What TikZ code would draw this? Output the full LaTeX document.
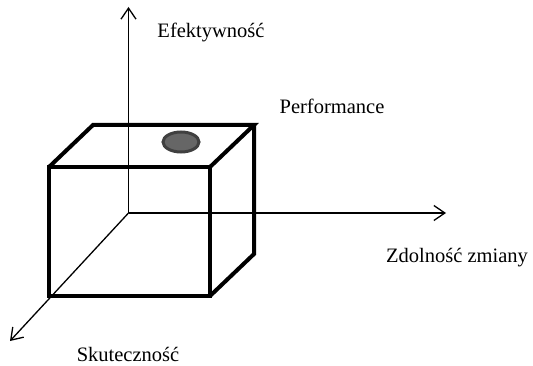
\documentclass[tikz,border=0pt]{standalone}
\usepackage{fontspec}
\setmainfont{Liberation Serif}
\usetikzlibrary{arrows.meta,shapes.geometric}
\begin{document}
\begin{tikzpicture}[x=1pt,y=-1pt,
  axis/.style={line width=1.3pt,-{Straight Barb[length=11pt,width=15pt,line width=1.3pt]}},
  cube/.style={line width=4pt,line join=miter,line cap=butt},
  lbl/.style={font=\fontsize{20.5}{24}\selectfont,inner sep=0pt}]
\useasboundingbox (0,0) rectangle (533,366);
\fill[white] (0,0) rectangle (533,366);
% axes
\coordinate (O) at (128.5,213);
\coordinate (Ytop) at (128.5,7);
\coordinate (Xend) at (446,213);
\coordinate (Zend) at (10,341);
\draw[axis] (O) -- (Ytop);
\draw[axis] (O) -- (Xend);
\draw[axis] (O) -- (Zend);
% cube
\draw[cube] (49,167) rectangle (210,296);
\draw[cube] (49,167) -- (93,125) -- (254,125) -- (210,167);
\draw[cube] (254,125) -- (254,254) -- (210,296);
% ellipse
\node[ellipse,draw=black!75,line width=3pt,fill=black!60,minimum width=36pt,minimum height=20pt,inner sep=0pt] (dot) at (181,142) {};
% labels
\node[lbl] (eff) at (211,32) {Efektywność};
\node[lbl] (perf) at (332,106) {Performance};
\node[lbl] (zdol) at (457,258) {Zdolność zmiany};
\node[lbl] (skut) at (128,354) {Skuteczność};
\end{tikzpicture}
\end{document}
